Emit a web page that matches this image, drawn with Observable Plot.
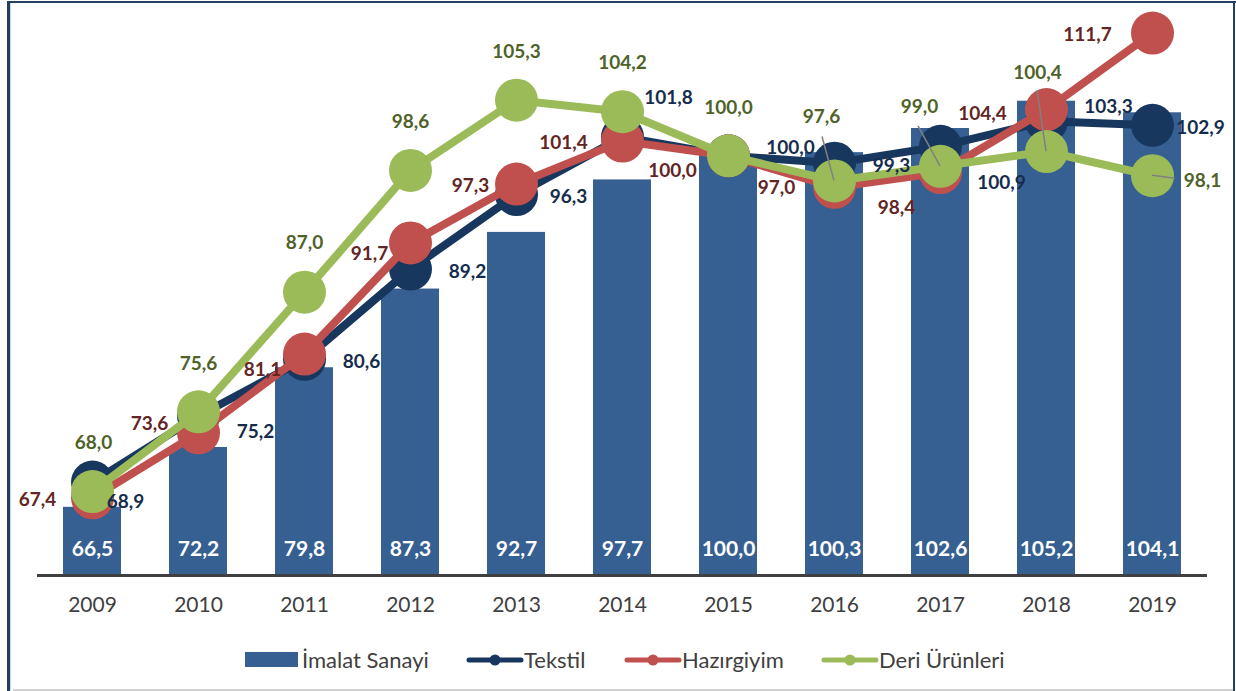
<!DOCTYPE html>
<html><head><meta charset="utf-8">
<script src="https://cdn.jsdelivr.net/npm/d3@7"></script>
<script src="https://cdn.jsdelivr.net/npm/@observablehq/plot@0.6"></script>
<style>
body{margin:0;background:#fff}
#wrap{position:relative;width:1236px;height:691px;overflow:hidden;font-family:Lato,"Open Sans",sans-serif;background:#fff}
#wrap svg{display:block}
.b{position:absolute}
</style>
</head><body><div id="wrap"></div>
<script>
// ---- data ----
const years = [2009, 2010, 2011, 2012, 2013, 2014, 2015, 2016, 2017, 2018, 2019];
const imalat = [66.5, 72.2, 79.8, 87.3, 92.7, 97.7, 100.0, 100.3, 102.6, 105.2, 104.1];
const tekstil = [68.9, 75.2, 80.6, 89.2, 96.3, 101.8, 100.0, 99.3, 100.9, 103.3, 102.9];
const hazirgiyim = [67.4, 73.6, 81.1, 91.7, 97.3, 101.4, 100.0, 97.0, 98.4, 104.4, 111.7];
const deri = [68.0, 75.6, 87.0, 98.6, 105.3, 104.2, 100.0, 97.6, 99.0, 100.4, 98.1];
const seriesNames = ["İmalat Sanayi", "Tekstil", "Hazırgiyim", "Deri Ürünleri"];

// ---- label placement (pixel offsets from each point, as in the original) ----
const tekstilLabelOffsets = [[33,20],[57,16],[57,3],[57,3],[52,2],[46,-39],[62,-8],[57,3],[61,37],[62,-14],[48,3]];
const hazirLabelOffsets = [[-55,2],[-49,-9],[-42,16],[-41,11],[-46,2],[-59,2],[-56,15],[-58,1],[-44,35],[-64,4],[-65,2]];
const deriLabelOffsets = [[1,-49],[0,-48],[0,-49],[0,-49],[0,-48],[0,-49],[0,-48],[-13,-64],[-21,-59],[-9,-79],[50,5]];
const deriLeaders = [null,null,null,null,null,null,null,[1,20],[-1,19],[0,18],[-27,-2]];

const barColor = "#376092";
const fmt = v => v.toFixed(1).replace(".", ",");

const bars = years.map((y, i) => ({year: String(y), value: imalat[i]}));
const series = [
  {name: seriesNames[1], values: tekstil, color: "#17375E", labelColor: "#152C4D", offsets: tekstilLabelOffsets},
  {name: seriesNames[2], values: hazirgiyim, color: "#C0504D", labelColor: "#632523", offsets: hazirLabelOffsets},
  {name: seriesNames[3], values: deri, color: "#9BBB59", labelColor: "#4F6228", offsets: deriLabelOffsets, leaders: deriLeaders}
];
series.forEach(s => s.rows = years.map((y, i) => ({year: String(y), value: s.values[i]})));

const marks = [
  Plot.barY(bars, {x: "year", y1: 60, y2: "value", fill: barColor}),
  Plot.ruleY([60], {stroke: "#404040", strokeWidth: 3}),
  Plot.text(bars, {x: "year", y: 60, text: d => fmt(d.value), dy: -26, fill: "white", fontSize: 21, fontWeight: "bold"}),
  Plot.text(bars, {x: "year", y: 60, text: "year", dy: 30, fill: "#404040", fontSize: 21})
];
for (const s of series) {
  marks.push(Plot.line(s.rows, {x: "year", y: "value", stroke: s.color, strokeWidth: 8}));
  marks.push(Plot.dot(s.rows, {x: "year", y: "value", r: 21.5, fill: s.color}));
}
for (const s of series) {
  s.rows.forEach((r, i) => {
    marks.push(Plot.text([r], {x: "year", y: "value", text: d => fmt(d.value), dx: s.offsets[i][0], dy: s.offsets[i][1],
      fill: s.labelColor, fontSize: 19, fontWeight: "bold"}));
  });
}

const plot = Plot.plot({
  width: 1236, height: 630,
  marginLeft: 37, marginRight: 29, marginTop: 0, marginBottom: 55,
  style: {fontFamily: "Lato, 'Open Sans', sans-serif", background: "white", overflow: "visible"},
  x: {type: "band", domain: years.map(String), paddingInner: 0.455, paddingOuter: 0.2275, axis: null},
  y: {domain: [60, 114.8], axis: null},
  marks
});

// leader lines for the green labels (via Plot's own scales)
const sx = plot.scale("x"), sy = plot.scale("y");
const g = d3.select(plot).append("g");
const deriS = series[2];
deriS.rows.forEach((r, i) => {
  const L = deriS.leaders[i];
  if (!L) return;
  const px = sx.apply(r.year) + sx.bandwidth / 2, py = sy.apply(r.value);
  const o = deriS.offsets[i];
  g.append("line").attr("x1", px + o[0] + L[0]).attr("y1", py + o[1] + L[1]).attr("x2", px).attr("y2", py)
    .attr("stroke", "#808080").attr("stroke-width", 1.5);
});

const wrap = document.getElementById("wrap");
wrap.appendChild(plot);

// legend
const legendItems = [
  {name: seriesNames[0], kind: "bar", color: barColor, x: 245},
  {name: seriesNames[1], kind: "line", color: series[0].color, x: 467},
  {name: seriesNames[2], kind: "line", color: series[1].color, x: 625},
  {name: seriesNames[3], kind: "line", color: series[2].color, x: 822}
];
const lg = d3.select(wrap).append("svg").attr("width", 1236).attr("height", 61)
  .style("position", "absolute").style("left", "0px").style("top", "630px");
for (const it of legendItems) {
  if (it.kind === "bar") {
    lg.append("rect").attr("x", it.x).attr("y", 22).attr("width", 53).attr("height", 15).attr("fill", it.color);
  } else {
    lg.append("line").attr("x1", it.x + 2).attr("x2", it.x + 54).attr("y1", 30).attr("y2", 30)
      .attr("stroke", it.color).attr("stroke-width", 5).attr("stroke-linecap", "round");
    lg.append("circle").attr("cx", it.x + 28).attr("cy", 30).attr("r", 5.5).attr("fill", it.color);
  }
  lg.append("text").attr("x", it.x + 57).attr("y", 30).attr("dy", "0.35em").attr("fill", "#404040")
    .attr("font-size", 22).attr("font-family", "Lato, 'Open Sans', sans-serif").text(it.name);
}

// frame
const addB = (css) => { const d = document.createElement("div"); d.className = "b"; d.style.cssText += css; wrap.appendChild(d); };
addB("left:7px;top:1px;width:3px;height:690px;background:#243F60");
addB("left:10px;top:3px;width:1px;height:688px;background:#C6D9F1");
addB("left:7px;top:1px;width:1229px;height:2px;background:#243F60");
addB("left:1233px;top:1px;width:2px;height:690px;background:#243F60");
addB("left:13px;top:689px;width:1220px;height:2px;background:#D0D0D0");
</script>
</body></html>
